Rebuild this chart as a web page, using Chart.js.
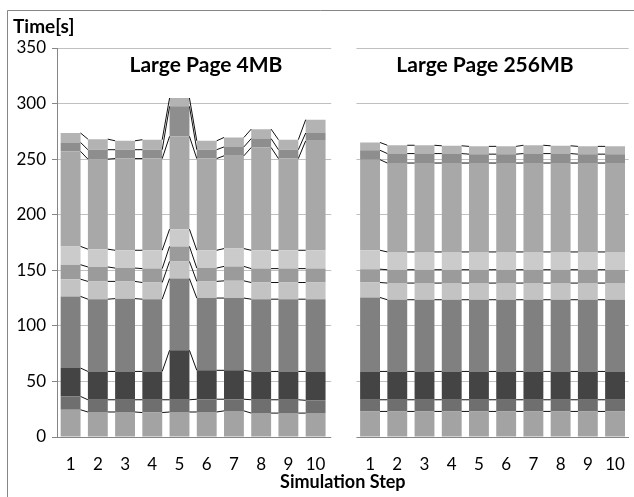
<!DOCTYPE html>
<html>
<head>
<meta charset="utf-8">
<script src="https://cdn.jsdelivr.net/npm/chart.js@4/dist/chart.umd.min.js"></script>
<style>
  html, body { margin: 0; padding: 0; background: #fff; }
  canvas { display: block; }
</style>
</head>
<body>
<canvas id="chart" width="634" height="497"></canvas>
<script>
const steps = ['1', '2', '3', '4', '5', '6', '7', '8', '9', '10'];

// time per phase [s], bottom phase first, one value per simulation step
const seg4MB = [
  [24.5, 22.5, 22.5, 22, 22.5, 22.5, 23.5, 21.5, 21.5, 21.5],
  [12, 11, 11, 11.5, 11, 11.5, 10.5, 12, 12, 11.5],
  [25.5, 25.5, 25.5, 25.5, 44.5, 26, 26, 25.5, 25.5, 26],
  [64.5, 65, 65.5, 65, 64.5, 65, 65, 65, 65, 65],
  [15.5, 16, 15.5, 15, 15.5, 15, 15.5, 15, 15, 15],
  [13, 13, 12, 12.5, 13.5, 12, 13, 12.5, 12.5, 12.5],
  [16.5, 16, 16, 16.5, 15.5, 16, 16, 16.5, 16.5, 16.5],
  [85.5, 81, 82.5, 82.5, 83.5, 82.5, 83.5, 92.5, 82.5, 98.5],
  [8, 8.5, 8, 8, 27, 8, 8, 8, 8, 7],
  [8.5, 9.5, 8, 9, 7.5, 8, 8.5, 8.5, 9, 12]
];
const seg256MB = [
  [23, 23, 23, 23, 23, 23, 23, 23, 23, 23],
  [10.5, 10.5, 10.5, 10.5, 10.5, 10.5, 10.5, 10.5, 10.5, 10.5],
  [25.5, 25.5, 25.5, 25.5, 25.5, 25.5, 25.5, 25.5, 25.5, 25.5],
  [66.5, 64.5, 64.5, 64.5, 64.5, 64.5, 64.5, 64.5, 64.5, 64.5],
  [13.5, 15, 15, 15, 15, 15, 15, 15, 15, 15],
  [12, 12, 12, 12, 12, 12, 12, 12, 12, 12],
  [17, 16, 16, 16, 16, 16, 16, 16, 16, 16],
  [81.5, 80, 80, 80, 80, 80, 80, 80, 80, 80],
  [8.5, 8.5, 8.5, 8.5, 8, 8, 8.5, 8.5, 8, 8],
  [7, 7.5, 7.5, 7, 7, 7, 7.5, 7, 7, 7]
];

const segColors = ['#a3a3a3', '#6f6f6f', '#444444', '#808080', '#c3c3c3',
  '#9b9b9b', '#cbcbcb', '#a8a8a8', '#8e8e8e', '#b3b3b3'];

// two groups with one empty slot between them
const labels = steps.concat([''], steps);

const datasets = seg4MB.map((row, k) => ({
  data: row.concat([null], seg256MB[k]),
  backgroundColor: segColors[k],
  borderWidth: 0,
  barPercentage: 0.73,
  categoryPercentage: 1
}));

// blank out grid in the empty slot between the two groups
const gapCover = {
  id: 'gapCover',
  beforeDatasetsDraw(chart) {
    const ctx = chart.ctx;
    const x = chart.scales.x;
    const c = x.getPixelForValue(10);
    const half = (x.getPixelForValue(11) - c) / 2;
    ctx.save();
    ctx.fillStyle = '#fff';
    ctx.fillRect(c - half + 2, chart.chartArea.top - 2, 2 * half - 2, chart.chartArea.height + 4);
    ctx.restore();
  }
};

// excel style series lines between neighbouring bars
const seriesLines = {
  id: 'seriesLines',
  afterDatasetsDraw(chart) {
    const ctx = chart.ctx;
    ctx.save();
    ctx.strokeStyle = '#111';
    ctx.lineWidth = 1;
    chart.data.datasets.forEach((ds, d) => {
      const bars = chart.getDatasetMeta(d).data;
      for (let i = 0; i < bars.length - 1; i++) {
        if (ds.data[i] == null || ds.data[i + 1] == null) continue;
        const a = bars[i], b = bars[i + 1];
        ctx.beginPath();
        ctx.moveTo(a.x + a.width / 2, a.y);
        ctx.lineTo(b.x - b.width / 2, b.y);
        ctx.stroke();
      }
    });
    ctx.restore();
  }
};

const labelsAndFrame = {
  id: 'labelsAndFrame',
  afterDraw(chart) {
    const ctx = chart.ctx;
    ctx.save();
    ctx.strokeStyle = '#868686';
    ctx.lineWidth = 1;
    ctx.beginPath();
    ctx.moveTo(7.5, 497);
    ctx.lineTo(7.5, 10.5);
    ctx.lineTo(634, 10.5);
    ctx.stroke();

    ctx.fillStyle = '#000';
    ctx.textBaseline = 'alphabetic';
    ctx.font = 'bold 19px Lato';
    ctx.textAlign = 'left';
    ctx.fillText('Time[s]', 13, 33);

    ctx.font = 'bold 18px Lato';
    ctx.textAlign = 'center';
    ctx.fillText('Simulation Step', (chart.chartArea.left + chart.chartArea.right) / 2, 488);

    ctx.font = 'bold 21px Lato';
    ctx.fillText('Large Page 4MB', 206, 72);
    ctx.fillText('Large Page 256MB', 485, 72);
    ctx.restore();
  }
};

new Chart(document.getElementById('chart'), {
  type: 'bar',
  data: { labels: labels, datasets: datasets },
  plugins: [gapCover, seriesLines, labelsAndFrame],
  options: {
    responsive: false,
    animation: false,
    devicePixelRatio: 1,
    layout: { padding: { top: 48, right: 3, left: 0, bottom: 0 } },
    plugins: { legend: { display: false }, tooltip: { enabled: false } },
    scales: {
      x: {
        stacked: true,
        grid: { display: false },
        border: { color: '#868686' },
        ticks: { color: '#000', font: { family: 'Lato', size: 17 }, padding: 9, maxRotation: 0, autoSkip: false },
        afterFit(scale) { scale.height = 60; }
      },
      y: {
        stacked: true,
        min: 0,
        max: 350,
        ticks: { stepSize: 50, color: '#000', font: { family: 'Lato', size: 17 }, padding: 6 },
        grid: { color: '#c0c0c0', tickLength: 5, tickColor: '#868686' },
        border: { color: '#868686' },
        afterFit(scale) { scale.width = 57; }
      }
    }
  }
});
</script>
</body>
</html>
